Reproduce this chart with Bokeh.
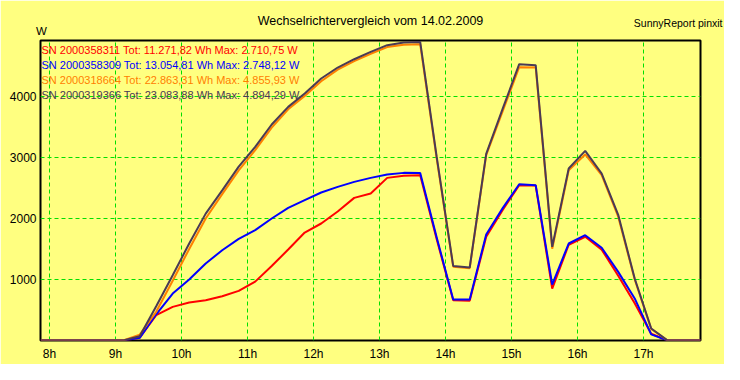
from bokeh.plotting import figure
from bokeh.models import Range1d, FixedTicker, Label
from bokeh.embed import file_html
from bokeh.resources import INLINE

# ---------------- data ----------------
times = ["07:52", "08:07", "08:22", "08:37", "08:52", "09:07", "09:22", "09:37", "09:52",
         "10:07", "10:22", "10:37", "10:52", "11:07", "11:22", "11:37", "11:52",
         "12:07", "12:22", "12:37", "12:52", "13:07", "13:22", "13:37", "13:52",
         "14:07", "14:22", "14:37", "14:52", "15:07", "15:22", "15:37", "15:52",
         "16:07", "16:22", "16:37", "16:52", "17:07", "17:22", "17:37", "17:52"]

sn_2000358311 = [0, 0, 0, 0, 0, 0, 45, 415, 551, 622, 660, 726, 813, 965, 1220, 1492, 1770,
                 1918, 2115, 2338, 2410, 2666, 2700, 2711, 1660, 660, 650, 1700, 2140, 2545,
                 2540, 852, 1570, 1700, 1490, 1060, 610, 110, 0, 0, 0]
sn_2000358309 = [0, 0, 0, 0, 0, 0, 43, 430, 770, 1000, 1262, 1480, 1666, 1810, 2000, 2174, 2300,
                 2426, 2518, 2600, 2666, 2721, 2748, 2745, 1690, 672, 672, 1738, 2170, 2562,
                 2546, 918, 1590, 1726, 1520, 1125, 690, 100, 0, 0, 0]
sn_2000318664 = [0, 0, 0, 0, 0, 0, 95, 470, 980, 1500, 2000, 2400, 2790, 3120, 3490, 3790, 4010,
                 4250, 4440, 4580, 4700, 4810, 4850, 4856, 2980, 1210, 1185, 3040, 3760, 4480,
                 4475, 1505, 2790, 3050, 2710, 2030, 1000, 190, 0, 0, 0]
sn_2000319366 = [0, 0, 0, 0, 0, 0, 70, 560, 1070, 1590, 2080, 2460, 2850, 3174, 3541, 3830, 4049,
                 4295, 4475, 4611, 4731, 4841, 4885, 4894, 3010, 1223, 1197, 3060, 3800, 4530,
                 4513, 1535, 2820, 3108, 2737, 2060, 1016, 197, 0, 0, 0]

serials = ["2000358311", "2000358309", "2000318664", "2000319366"]
totals = ["11.271,82", "13.054,81", "22.863,31", "23.083,88"]
maxima = ["2.710,75", "2.748,12", "4.855,93", "4.894,29"]
series = [sn_2000358311, sn_2000358309, sn_2000318664, sn_2000319366]
colors = ["#FF0000", "#0000FF", "#FF8000", "#4A3A55"]

x_ticks = [8, 9, 10, 11, 12, 13, 14, 15, 16, 17]
x_tick_labels = ["8h", "9h", "10h", "11h", "12h", "13h", "14h", "15h", "16h", "17h"]
y_ticks = [1000, 2000, 3000, 4000]

title_text = "Wechselrichtervergleich vom 14.02.2009"
unit_text = "W"
footer_text = "SunnyReport pinxit"

# ---------------- figure ----------------
hours = [int(t[:2]) + int(t[3:]) / 60 for t in times]

BG = "#FFFF80"
FONT = "Liberation Sans"

p = figure(width=724, height=364, output_backend="svg", toolbar_location=None,
           title=None,
           x_range=Range1d(7.8636, 17.8636), y_range=Range1d(0, 4918),
           min_border_left=40, min_border_right=24, min_border_top=40, min_border_bottom=24)
p.background_fill_color = BG
p.border_fill_color = BG
p.outline_line_color = "black"
p.outline_line_width = 2

for s, c in zip(series, colors):
    p.line(hours, s, line_color=c, line_width=2)

# axes
p.xaxis.ticker = FixedTicker(ticks=x_ticks)
p.xaxis.major_label_overrides = {t: l for t, l in zip(x_ticks, x_tick_labels)}
p.yaxis.ticker = FixedTicker(ticks=y_ticks)
for ax in (p.xaxis[0], p.yaxis[0]):
    ax.axis_line_color = None
    ax.major_tick_line_color = None
    ax.minor_tick_line_color = None
    ax.major_tick_out = 0
    ax.major_tick_in = 0
    ax.major_label_text_font = FONT
    ax.major_label_text_font_size = "12px"
    ax.major_label_text_color = "black"
p.xaxis.major_label_standoff = 6
p.yaxis.major_label_standoff = 4

# grid
for g in (p.xgrid[0], p.ygrid[0]):
    g.grid_line_color = "#00E000"
    g.grid_line_dash = "4 3"
    g.grid_line_width = 1
p.xgrid.ticker = FixedTicker(ticks=x_ticks)
p.ygrid.ticker = FixedTicker(ticks=y_ticks)

# title, unit, footer: stacked "above" side panels (each y is relative to its own panel)
p.add_layout(Label(x=330, y=19.3, x_units="screen", y_units="screen", text=title_text,
                   text_align="center", text_baseline="middle", text_font=FONT,
                   text_font_size="12.5px", text_color="black"), "above")
p.add_layout(Label(x=1, y=-4.8, x_units="screen", y_units="screen", text=unit_text,
                   text_align="center", text_baseline="middle", text_font=FONT,
                   text_font_size="11.5px", text_color="black"), "above")
p.add_layout(Label(x=682, y=-8, x_units="screen", y_units="screen", text=footer_text,
                   text_align="right", text_baseline="middle", text_font=FONT,
                   text_font_size="10.5px", text_color="black"), "above")

# legend texts (inside the frame)
leg_y = [290.7, 275.5, 260.3, 245.1]
for sn, tot, mx, c, yy in zip(serials, totals, maxima, colors, leg_y):
    p.add_layout(Label(x=1, y=yy, x_units="screen", y_units="screen",
                       text=f"SN {sn} Tot: {tot} Wh Max: {mx} W",
                       text_align="left", text_baseline="middle", text_font=FONT,
                       text_font_size="11px", text_color=c))

open("out.html", "w").write(file_html(p, INLINE))
